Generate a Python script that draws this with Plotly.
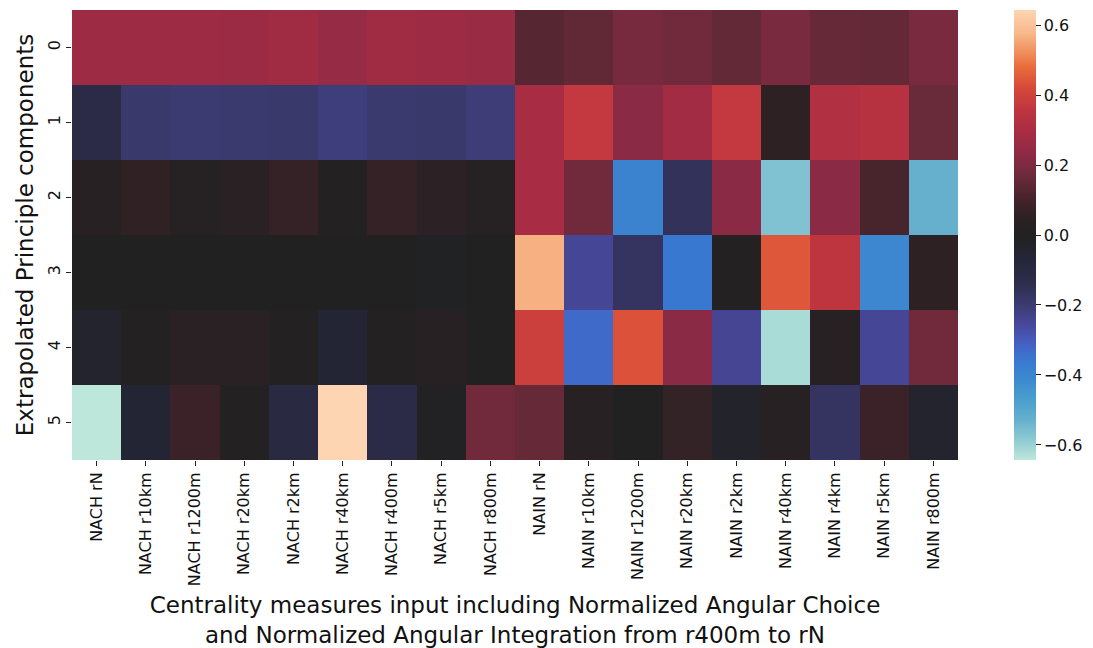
import plotly.graph_objects as go

columns = ["NACH rN", "NACH r10km", "NACH r1200m", "NACH r20km", "NACH r2km",
           "NACH r40km", "NACH r400m", "NACH r5km", "NACH r800m",
           "NAIN rN", "NAIN r10km", "NAIN r1200m", "NAIN r20km", "NAIN r2km",
           "NAIN r40km", "NAIN r4km", "NAIN r5km", "NAIN r800m"]
components = ["0", "1", "2", "3", "4", "5"]

pc0 = [0.270, 0.272, 0.268, 0.265, 0.275, 0.250, 0.275, 0.272, 0.262,
       0.130, 0.150, 0.190, 0.180, 0.155, 0.195, 0.160, 0.155, 0.195]
pc1 = [-0.120, -0.190, -0.200, -0.195, -0.190, -0.215, -0.195, -0.190, -0.210,
       0.295, 0.370, 0.225, 0.280, 0.370, 0.055, 0.320, 0.335, 0.165]
pc2 = [0.030, 0.060, 0.025, 0.040, 0.070, 0.010, 0.070, 0.050, 0.025,
       0.295, 0.180, -0.390, -0.160, 0.225, -0.567, 0.225, 0.105, -0.530]
pc3 = [0.000, 0.002, 0.000, -0.003, 0.000, 0.001, -0.003, -0.008, 0.005,
       0.565, -0.250, -0.170, -0.357, 0.010, 0.445, 0.357, -0.405, 0.055]
pc4 = [-0.040, 0.015, 0.040, 0.040, 0.015, -0.060, 0.010, 0.035, 0.003,
       0.390, -0.330, 0.435, 0.225, -0.245, -0.620, 0.030, -0.250, 0.180]
pc5 = [-0.643, -0.060, 0.080, 0.015, -0.100, 0.643, -0.120, -0.010, 0.180,
       0.160, 0.035, 0.000, 0.065, -0.030, 0.035, -0.170, 0.080, -0.040]

zmin, zmax = -0.643, 0.643

# approximate "icefire" colormap (value -> colour)
ice_fire_values = [-0.643, -0.586, -0.529, -0.471, -0.414, -0.357, -0.310, -0.262,
                   -0.205, -0.138, -0.071, 0.0, 0.052, 0.100, 0.167, 0.224, 0.290,
                   0.357, 0.424, 0.481, 0.519, 0.576, 0.643]
ice_fire_colors = ["#bde7db", "#8ecbd2", "#65b0ce", "#4a9fcd", "#3c8acf", "#3978d0",
                   "#4560c3", "#4949a0", "#3d3c74", "#2e2d4d", "#252638", "#212121",
                   "#2c2124", "#45232b", "#6a2a3a", "#8a2a44", "#a62c44", "#be3540",
                   "#d84a39", "#e86d3c", "#ef8c5a", "#f8b88a", "#fdd5b3"]
colorscale = [[(v - zmin) / (zmax - zmin), c] for v, c in zip(ice_fire_values, ice_fire_colors)]
colorscale[0][0] = 0.0
colorscale[-1][0] = 1.0

z = [pc0, pc1, pc2, pc3, pc4, pc5]

fig = go.Figure(go.Heatmap(
    z=z, x=columns, y=components,
    colorscale=colorscale, zmin=zmin, zmax=zmax,
    colorbar=dict(
        x=1.063, xanchor="left", y=0.5, yanchor="middle",
        len=1, lenmode="fraction", thickness=22, outlinewidth=0,
        xpad=0, ypad=0,
        tickvals=[-0.6, -0.4, -0.2, 0.0, 0.2, 0.4, 0.6], tickformat=".1f",
        ticks="outside", ticklen=5, tickcolor="#222", tickwidth=1.2,
        tickfont=dict(family="DejaVu Sans", size=16, color="#111"),
    ),
))

# page body adds an 8px offset, so the figure is sized to fit the window
fig.update_layout(
    width=1077, height=640,
    margin=dict(l=64, r=127, t=2, b=188),
    paper_bgcolor="white", plot_bgcolor="white",
    font=dict(family="DejaVu Sans", color="#111"),
    xaxis=dict(
        tickangle=-90, ticks="outside", ticklen=5, tickcolor="#222", tickwidth=1.2,
        tickfont=dict(size=16), showgrid=False, zeroline=False, showline=False,
        title=dict(text="Centrality measures input including Normalized Angular Choice"
                        "<br>and Normalized Angular Integration from r400m to rN",
                   font=dict(size=23), standoff=12),
        automargin=False,
    ),
    yaxis=dict(
        autorange="reversed", tickangle=-90, ticks="outside", ticklen=5,
        tickcolor="#222", tickwidth=1.2, tickfont=dict(size=16),
        showgrid=False, zeroline=False, showline=False,
        title=dict(text="Extrapolated Principle components", font=dict(size=23), standoff=4),
        automargin=False,
    ),
)

fig.write_html("out.html")
